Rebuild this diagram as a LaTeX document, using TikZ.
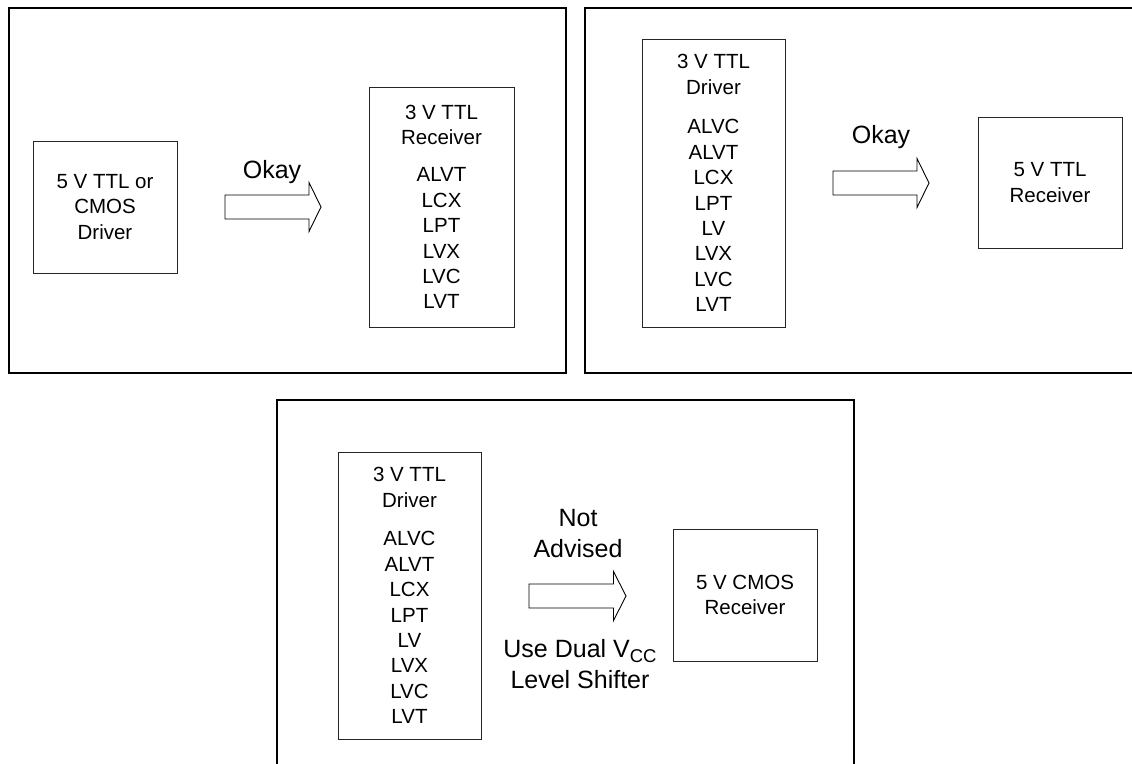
\documentclass[tikz,border=0pt]{standalone}
\usepackage{fontspec}
\setmainfont{Liberation Sans}
\newcommand{\vccsub}[1]{\raisebox{-5pt}{\fontsize{18.5}{18.5}\selectfont #1}}
\begin{document}
\begin{tikzpicture}[x=1pt,y=-1pt,
  panel/.style={draw=black,line width=2pt},
  chip/.style={draw=black!85,line width=1pt,inner sep=0pt,align=center,
    font=\fontsize{20.5}{25.4}\selectfont},
  lbl/.style={inner sep=0pt,align=center,font=\fontsize{25}{31}\selectfont},
  blockarrow/.style={draw=black,line width=0.9pt,fill=white,line join=miter}]
\useasboundingbox (0,0) rectangle (1132,763);
\clip (0,0) rectangle (1132,763);
% panels
\draw[panel] (9,7.5) rectangle (566,372.5);
\draw[panel] (585,7.5) rectangle (1140,372.5);
\draw[panel] (277,400) rectangle (854,775);

% ---- panel 1
\node[chip,minimum width=144pt,minimum height=132pt] (d1) at (105,207)
  {5 V TTL or\\CMOS\\Driver};
\node[chip,minimum width=145pt,minimum height=240pt] (r1) at (441.5,207)
  {3 V TTL\\Receiver\\[11.5pt]ALVT\\LCX\\LPT\\LVX\\LVC\\LVT};
\node[lbl,anchor=base] (ok1) at (272,178) {Okay};
\coordinate (a1s) at (225,207);
\coordinate (a1t) at (321,207);
\draw[blockarrow] ([yshift=12pt]a1s) -- ([xshift=-12pt,yshift=12pt]a1t)
  -- ([xshift=-12pt,yshift=24.5pt]a1t) -- (a1t)
  -- ([xshift=-12pt,yshift=-24.5pt]a1t) -- ([xshift=-12pt,yshift=-12pt]a1t)
  -- ([yshift=-12pt]a1s) -- cycle;

% ---- panel 2
\node[chip,minimum width=143pt,minimum height=288pt] (d2) at (713.5,183)
  {3 V TTL\\Driver\\[14.5pt]ALVC\\ALVT\\LCX\\LPT\\LV\\LVX\\LVC\\LVT};
\node[chip,minimum width=144pt,minimum height=131pt] (r2) at (1050,182.5)
  {5 V TTL\\Receiver};
\node[lbl,anchor=base] (ok2) at (881,143) {Okay};
\coordinate (a2s) at (833,183);
\coordinate (a2t) at (929,183);
\draw[blockarrow] ([yshift=12pt]a2s) -- ([xshift=-12pt,yshift=12pt]a2t)
  -- ([xshift=-12pt,yshift=24.5pt]a2t) -- (a2t)
  -- ([xshift=-12pt,yshift=-24.5pt]a2t) -- ([xshift=-12pt,yshift=-12pt]a2t)
  -- ([yshift=-12pt]a2s) -- cycle;

% ---- panel 3
\node[chip,minimum width=143pt,minimum height=287pt] (d3) at (409.5,595.5)
  {3 V TTL\\Driver\\[13.5pt]ALVC\\ALVT\\LCX\\LPT\\LV\\LVX\\LVC\\LVT};
\node[chip,minimum width=144pt,minimum height=132pt] (r3) at (745,595)
  {5 V CMOS\\Receiver};
\node[lbl] (na) at (578,533.5) {Not\\Advised};
\node[lbl] (ud) at (580,664.5)
  {Use Dual V\vccsub{CC}\\Level Shifter};
\coordinate (a3s) at (529,596);
\coordinate (a3t) at (626,596);
\draw[blockarrow] ([yshift=12pt]a3s) -- ([xshift=-12.5pt,yshift=12pt]a3t)
  -- ([xshift=-12.5pt,yshift=24.5pt]a3t) -- (a3t)
  -- ([xshift=-12.5pt,yshift=-24.5pt]a3t) -- ([xshift=-12.5pt,yshift=-12pt]a3t)
  -- ([yshift=-12pt]a3s) -- cycle;
\end{tikzpicture}
\end{document}
